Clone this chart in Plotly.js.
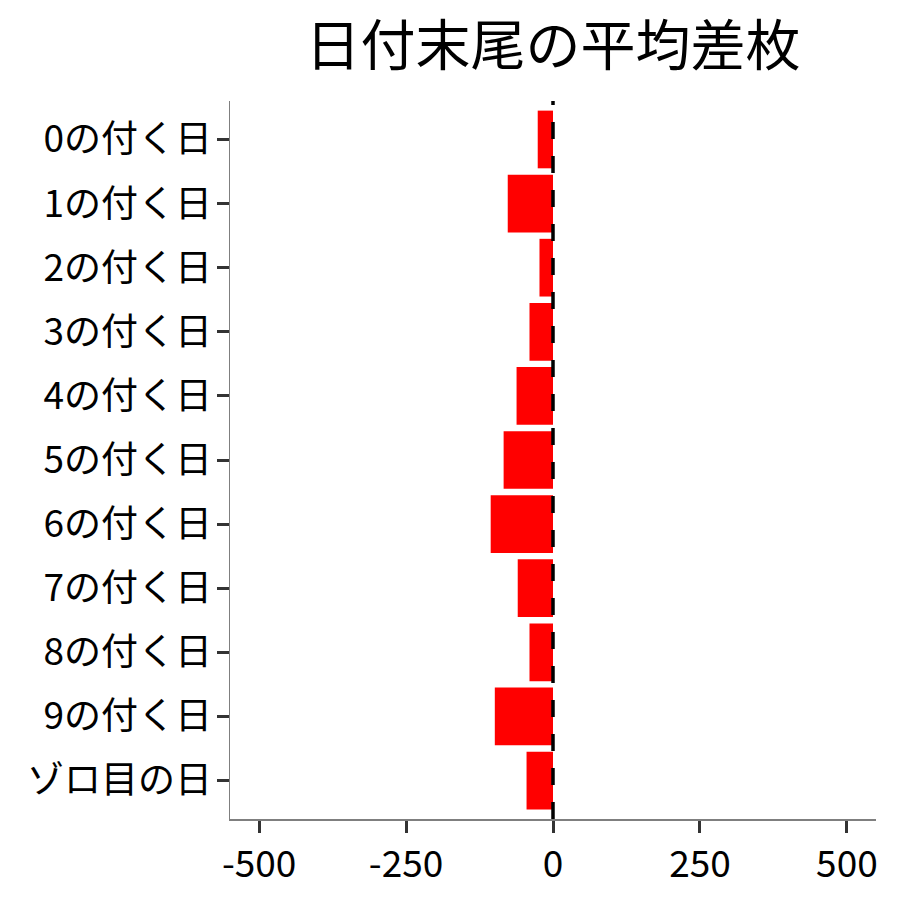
<!DOCTYPE html>
<html>
<head>
<meta charset="utf-8">
<script src="https://cdn.plot.ly/plotly-3.0.1.min.js"></script>
<style>
  body { margin: 0; background: #fff; }
  #chart { width: 900px; height: 900px; }
</style>
</head>
<body>
<div id="chart"></div>
<script>
// Average difference per day ending.
const day_labels = ['0の付く日', '1の付く日', '2の付く日', '3の付く日', '4の付く日',
    '5の付く日', '6の付く日', '7の付く日', '8の付く日', '9の付く日', 'ゾロ目の日'];
const avg_diff = [-26, -77, -23, -40, -62, -84, -106, -60, -40, -99, -45];
const x_ticks = [-500, -250, 0, 250, 500];
const x_tick_text = ['-500', '-250', '0', '250', '500'];

const font_family = '"Noto Sans CJK JP", "Noto Sans", sans-serif';

const trace = {
    type: 'bar',
    orientation: 'h',
    x: avg_diff,
    y: day_labels,
    width: 0.9,
    marker: { color: '#ff0000', line: { width: 0 } },
    hoverinfo: 'x+y'
};

const layout = {
    width: 900,
    height: 900,
    margin: { l: 230, r: 24, t: 101, b: 81 },
    paper_bgcolor: '#ffffff',
    plot_bgcolor: '#ffffff',
    showlegend: false,
    font: { family: font_family, color: '#000000' },
    title: {
        text: '日付末尾の平均差枚',
        font: { family: font_family, size: 55, color: '#000000' },
        x: 0.5,
        xref: 'paper',
        xanchor: 'center',
        y: 0.949,
        yref: 'container',
        yanchor: 'middle'
    },
    xaxis: {
        range: [-549.5, 549.5],
        tickmode: 'array',
        tickvals: x_ticks,
        ticktext: x_tick_text,
        showgrid: false,
        zeroline: false,
        showline: true,
        linecolor: '#7f7f7f',
        linewidth: 1.5,
        ticks: 'outside',
        ticklen: 12,
        tickwidth: 3,
        tickcolor: '#333333',
        tickfont: { family: font_family, size: 37, color: '#000000' }
    },
    yaxis: {
        type: 'category',
        categoryorder: 'array',
        categoryarray: day_labels,
        range: [10.6, -0.6],
        showgrid: false,
        zeroline: false,
        showline: true,
        linecolor: '#7f7f7f',
        linewidth: 1.5,
        ticks: 'outside',
        ticklen: 12,
        tickwidth: 3,
        tickcolor: '#333333',
        ticklabelstandoff: -3,
        tickfont: { family: font_family, size: 37, color: '#000000' }
    },
    shapes: [{
        type: 'line',
        xref: 'x',
        yref: 'paper',
        x0: 0, x1: 0,
        y0: 0, y1: 1,
        line: { color: '#000000', width: 3.5, dash: '17px,17px' }
    }]
};

const config = { responsive: false, displaylogo: false, staticPlot: true };

Plotly.newPlot('chart', [trace], layout, config);
</script>
</body>
</html>
